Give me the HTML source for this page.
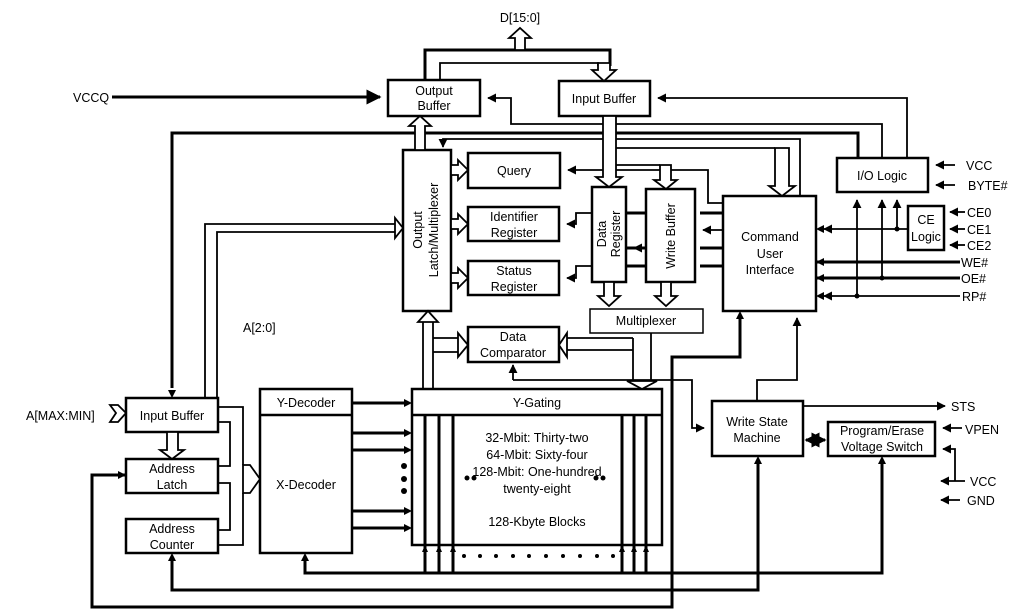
<!DOCTYPE html>
<html><head><meta charset="utf-8"><style>
html,body{margin:0;padding:0;background:#fff;}
svg{display:block;}
text{font-family:"Liberation Sans",Arial,sans-serif;font-size:12.5px;fill:#000;}
</style></head><body>
<svg width="1017" height="616" viewBox="0 0 1017 616" xmlns="http://www.w3.org/2000/svg">
<defs>
<marker id="a" viewBox="0 0 10 10" refX="9" refY="5" markerWidth="5" markerHeight="5" orient="auto-start-reverse"><path d="M0,0 L10,5 L0,10 z" fill="#000"/></marker>
</defs>
<g fill="none" stroke="#000">
<g stroke-width="2.5" fill="#fff">
<rect x="388" y="80" width="92" height="36"/>
<rect x="559" y="81" width="91" height="35"/>
<rect x="403" y="150" width="48" height="161"/>
<rect x="468" y="153" width="92" height="35"/>
<rect x="468" y="207" width="91" height="34"/>
<rect x="468" y="261" width="91" height="34"/>
<rect x="592" y="187" width="34" height="95"/>
<rect x="646" y="189" width="49" height="93"/>
<rect x="723" y="196" width="93" height="115"/>
<rect x="590" y="309" width="113" height="24" stroke-width="1.5"/>
<rect x="468" y="327" width="91" height="35"/>
<rect x="837" y="158" width="91" height="34"/>
<rect x="908" y="206" width="36" height="44"/>
<rect x="260" y="389" width="92" height="164"/>
<line x1="260" y1="415" x2="352" y2="415"/>
<rect x="412" y="389" width="250" height="156"/>
<line x1="412" y1="415" x2="662" y2="415"/>
<rect x="126" y="398" width="92" height="34"/>
<rect x="126" y="459" width="92" height="34"/>
<rect x="126" y="519" width="92" height="34"/>
<rect x="712" y="401" width="91" height="55"/>
<rect x="828" y="422" width="107" height="34"/>
</g>
<g stroke-width="3">
<polyline points="425,80 425,50 610,50 610,66"/>
<polyline points="172,388 172,133 858,133 858,158" />
<polyline points="112,97 380,97" marker-end="url(#a)"/>
<line x1="816" y1="262" x2="960" y2="262"/>
<line x1="816" y1="278" x2="960" y2="278"/>
<line x1="700" y1="213" x2="723" y2="213"/><line x1="626" y1="213" x2="646" y2="213"/>
<line x1="700" y1="248" x2="723" y2="248"/><line x1="626" y1="248" x2="646" y2="248"/>
<line x1="700" y1="266" x2="723" y2="266"/><line x1="626" y1="266" x2="646" y2="266"/>
<line x1="352" y1="403" x2="404" y2="403"/>
<line x1="352" y1="433" x2="404" y2="433"/>
<line x1="352" y1="450" x2="404" y2="450"/>
<line x1="352" y1="511" x2="404" y2="511"/>
<line x1="352" y1="528" x2="404" y2="528"/>
<polyline points="305,560 305,573 882,573 882,464"/>
<polyline points="172,560 172,590 758,590 758,464"/>
<polyline points="126,475 92,475 92,607 672,607 672,357 740,357 740,318"/>
<line x1="425" y1="545" x2="425" y2="573"/><line x1="439" y1="545" x2="439" y2="573"/><line x1="453" y1="545" x2="453" y2="573"/>
<line x1="622" y1="545" x2="622" y2="573"/><line x1="634" y1="545" x2="634" y2="573"/><line x1="646" y1="545" x2="646" y2="573"/>
<line x1="425" y1="415" x2="425" y2="545"/><line x1="439" y1="415" x2="439" y2="545"/><line x1="453" y1="415" x2="453" y2="545"/>
<line x1="622" y1="415" x2="622" y2="545"/><line x1="634" y1="415" x2="634" y2="545"/><line x1="646" y1="415" x2="646" y2="545"/>
</g>
<g stroke-width="1.8">
<polyline points="440,80 440,63 598,63 598,66"/>
<polyline points="907,158 907,98 658,98" marker-end="url(#a)"/>
<polyline points="882,158 882,124 511,124 511,98 488,98" marker-end="url(#a)"/>
<polyline points="800,196 800,139 443,139 443,147" marker-end="url(#a)"/>
<polyline points="723,203 708,203 708,170 568,170" marker-end="url(#a)"/>
<polyline points="592,213 576,213 576,224 567,224" marker-end="url(#a)"/>
<polyline points="592,266 576,266 576,278 567,278" marker-end="url(#a)"/>
<line x1="723" y1="230" x2="703" y2="230" marker-end="url(#a)"/>
<line x1="646" y1="248" x2="634" y2="248" marker-end="url(#a)"/>
<polyline points="616,165 660,165"/>
<polyline points="616,148 775,148"/>
<line x1="955" y1="165" x2="936" y2="165" marker-end="url(#a)"/>
<line x1="955" y1="185" x2="936" y2="185" marker-end="url(#a)"/>
<line x1="965" y1="212" x2="950" y2="212" marker-end="url(#a)"/>
<line x1="965" y1="229" x2="950" y2="229" marker-end="url(#a)"/>
<line x1="965" y1="245" x2="950" y2="245" marker-end="url(#a)"/>
<polyline points="908,229 824,229" marker-end="url(#a)"/>
<line x1="897" y1="229" x2="897" y2="200" marker-end="url(#a)"/>
<line x1="882" y1="278" x2="882" y2="200" marker-end="url(#a)"/>
<line x1="857" y1="296" x2="857" y2="200" marker-end="url(#a)"/>
<line x1="960" y1="296" x2="824" y2="296" marker-end="url(#a)"/>
<polyline points="757,401 757,380 797,380 797,318" marker-end="url(#a)"/>
<polyline points="513,380 692,380 692,428 704,428" marker-end="url(#a)"/>
<line x1="513" y1="380" x2="513" y2="365" marker-end="url(#a)"/>
<line x1="803" y1="406" x2="945" y2="406" marker-end="url(#a)"/>
<line x1="806" y1="440" x2="825" y2="440" marker-start="url(#a)" marker-end="url(#a)" stroke-width="3"/>
<line x1="962" y1="428" x2="943" y2="428" marker-end="url(#a)"/>
<polyline points="955,481 955,449 943,449" marker-end="url(#a)"/>
<line x1="965" y1="481" x2="941" y2="481" marker-end="url(#a)"/>
<line x1="960" y1="500" x2="941" y2="500" marker-end="url(#a)"/>
<polyline points="651,333 651,381"/>
<polyline points="633,338 633,381"/>
<polyline points="219,407 243,407 243,465"/>
<polyline points="218,422 230,422 230,466 218,466"/>
<polyline points="218,483 230,483 230,530 218,530"/>
<polyline points="243,493 243,545 218,545"/>
<polyline points="205,398 205,224 395,224"/>
<polyline points="217,398 217,232 395,232"/>
<line x1="423" y1="389" x2="423" y2="322"/>
<line x1="433" y1="389" x2="433" y2="322"/>
<polyline points="433,338 458,338"/><polyline points="433,352 458,352"/>
<line x1="633" y1="338" x2="567" y2="338"/><line x1="633" y1="350" x2="567" y2="350"/>
</g>
<g fill="#000" stroke="none">
<path d="M412,403 l-8,-4 v8z"/><path d="M412,433 l-8,-4 v8z"/><path d="M412,450 l-8,-4 v8z"/>
<path d="M412,511 l-8,-4 v8z"/><path d="M412,528 l-8,-4 v8z"/>
<path d="M305,553 l-4,8 h8z"/><path d="M172,553 l-4,8 h8z"/><path d="M758,456 l-4,8 h8z"/><path d="M882,456 l-4,8 h8z"/>
<path d="M126,475 l-8,-4 v8z"/><path d="M740,311 l-4,8 h8z"/><path d="M172,398 l-4,-8 h8z"/>
<path d="M425,545 l-3,7 h6z"/><path d="M439,545 l-3,7 h6z"/><path d="M453,545 l-3,7 h6z"/>
<path d="M622,545 l-3,7 h6z"/><path d="M634,545 l-3,7 h6z"/><path d="M646,545 l-3,7 h6z"/>
<path d="M816,229 l8,-4 v8z"/><path d="M816,262 l8,-4 v8z"/><path d="M816,278 l8,-4 v8z"/><path d="M816,296 l8,-4 v8z"/>
<circle cx="897" cy="229" r="2.5"/><circle cx="882" cy="278" r="2.5"/><circle cx="857" cy="296" r="2.5"/>
<circle cx="404" cy="466" r="3"/><circle cx="404" cy="479" r="3"/><circle cx="404" cy="491" r="3"/>
<circle cx="467" cy="478" r="2.5"/><circle cx="474" cy="478" r="2.5"/><circle cx="596" cy="478" r="2.5"/><circle cx="603" cy="478" r="2.5"/>
<circle cx="464" cy="556" r="2"/><circle cx="480" cy="556" r="2"/><circle cx="496" cy="556" r="2"/><circle cx="513" cy="556" r="2"/><circle cx="529" cy="556" r="2"/><circle cx="546" cy="556" r="2"/><circle cx="563" cy="556" r="2"/><circle cx="580" cy="556" r="2"/><circle cx="597" cy="556" r="2"/><circle cx="613" cy="556" r="2"/>
</g>
<g stroke-width="1.8" fill="#fff">
<polygon points="515,50 515,38 509,38 520,28 531,38 525,38 525,50"/>
<polygon points="598,63 598,70 592,70 604,81 616,70 610,70 610,63"/>
<polygon points="603,116 616,116 616,177 622,177 609,187 596,177 603,177"/>
<polygon points="660,165 671,165 671,180 677,180 666,189 654,180 660,180"/>
<polygon points="775,148 789,148 789,186 795,186 782,196 769,186 775,186"/>
<polygon points="415,150 415,126 409,126 420,116 431,126 425,126 425,150"/>
<polygon points="423,322 418,322 428,311 438,322 433,322"/>
<polygon points="468,170 458,160 458,165 451,165 451,175 458,175 458,180"/>
<polygon points="468,224 458,214 458,219 451,219 451,229 458,229 458,234"/>
<polygon points="468,278 458,268 458,273 451,273 451,283 458,283 458,288"/>
<polygon points="395,224 395,218 403,228 395,238 395,232"/>
<polygon points="458,338 458,333 468,345 458,357 458,352"/>
<polygon points="567,338 567,333 559,345 567,357 567,350"/>
<polygon points="633,381 627,381 642,389 657,381 651,381"/>
<polygon points="604,282 604,296 598,296 609,306 620,296 614,296 614,282"/>
<polygon points="661,282 661,296 655,296 666,306 677,296 671,296 671,282"/>
<polygon points="167,432 178,432 178,450 184,450 172,459 160,450 167,450"/>
<polygon points="243,465 250,465 260,479 250,493 243,493"/>
<polygon points="110,405 118,405 126,413 118,422 110,422 116,413"/>
</g>
</g>
<text x="434" y="95" text-anchor="middle">Output</text>
<text x="434" y="110" text-anchor="middle">Buffer</text>
<text x="604" y="103" text-anchor="middle">Input Buffer</text>
<text x="514" y="175" text-anchor="middle">Query</text>
<text x="514" y="221" text-anchor="middle">Identifier</text>
<text x="514" y="237" text-anchor="middle">Register</text>
<text x="514" y="275" text-anchor="middle">Status</text>
<text x="514" y="291" text-anchor="middle">Register</text>
<text transform="translate(422,230) rotate(-90)" text-anchor="middle">Output</text>
<text transform="translate(438,230) rotate(-90)" text-anchor="middle">Latch/Multiplexer</text>
<text transform="translate(606,234) rotate(-90)" text-anchor="middle">Data</text>
<text transform="translate(620,234) rotate(-90)" text-anchor="middle">Register</text>
<text transform="translate(675,236) rotate(-90)" text-anchor="middle">Write Buffer</text>
<text x="770" y="241" text-anchor="middle">Command</text>
<text x="770" y="258" text-anchor="middle">User</text>
<text x="770" y="274" text-anchor="middle">Interface</text>
<text x="646" y="325" text-anchor="middle">Multiplexer</text>
<text x="513" y="341" text-anchor="middle">Data</text>
<text x="513" y="357" text-anchor="middle">Comparator</text>
<text x="882" y="180" text-anchor="middle">I/O Logic</text>
<text x="926" y="224" text-anchor="middle">CE</text>
<text x="926" y="241" text-anchor="middle">Logic</text>
<text x="306" y="407" text-anchor="middle">Y-Decoder</text>
<text x="306" y="489" text-anchor="middle">X-Decoder</text>
<text x="537" y="407" text-anchor="middle">Y-Gating</text>
<text x="537" y="442" text-anchor="middle">32-Mbit: Thirty-two</text>
<text x="537" y="459" text-anchor="middle">64-Mbit: Sixty-four</text>
<text x="537" y="476" text-anchor="middle">128-Mbit: One-hundred</text>
<text x="537" y="493" text-anchor="middle">twenty-eight</text>
<text x="537" y="526" text-anchor="middle">128-Kbyte Blocks</text>
<text x="172" y="420" text-anchor="middle">Input Buffer</text>
<text x="172" y="473" text-anchor="middle">Address</text>
<text x="172" y="489" text-anchor="middle">Latch</text>
<text x="172" y="533" text-anchor="middle">Address</text>
<text x="172" y="549" text-anchor="middle">Counter</text>
<text x="757" y="426" text-anchor="middle">Write State</text>
<text x="757" y="442" text-anchor="middle">Machine</text>
<text x="882" y="435" text-anchor="middle">Program/Erase</text>
<text x="882" y="451" text-anchor="middle">Voltage Switch</text>
<text x="520" y="22" text-anchor="middle">D[15:0]</text>
<text x="73" y="102">VCCQ</text>
<text x="243" y="332">A[2:0]</text>
<text x="26" y="420">A[MAX:MIN]</text>
<text x="966" y="170">VCC</text>
<text x="968" y="190">BYTE#</text>
<text x="967" y="217">CE0</text>
<text x="967" y="234">CE1</text>
<text x="967" y="250">CE2</text>
<text x="961" y="267">WE#</text>
<text x="961" y="283">OE#</text>
<text x="962" y="301">RP#</text>
<text x="951" y="411">STS</text>
<text x="965" y="434">VPEN</text>
<text x="970" y="486">VCC</text>
<text x="967" y="505">GND</text>
</svg>
</body></html>
